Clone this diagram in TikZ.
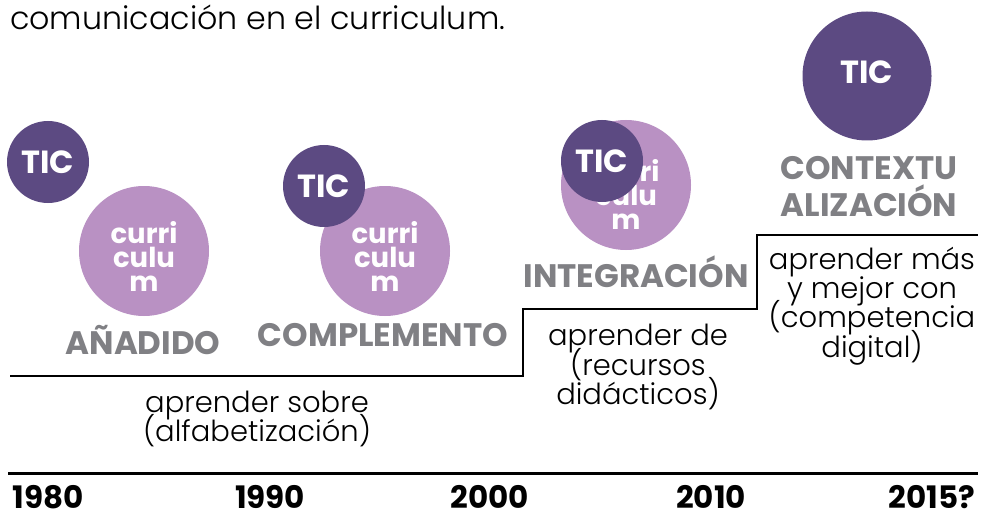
\documentclass[tikz,border=0pt]{standalone}
\usepackage{fontspec}
\setmainfont{Poppins}[UprightFont=*-Light,BoldFont=*-Bold]
\definecolor{ticc}{HTML}{5C4A82}
\definecolor{curc}{HTML}{B991C3}
\definecolor{grayc}{HTML}{808084}
\newcommand{\nolineskip}{\lineskiplimit=-1000pt\lineskip=0pt}
\begin{document}
\begin{tikzpicture}[x=1pt,y=-1pt,
  ticcircle/.style={circle,fill=ticc,inner sep=0pt},
  curcircle/.style={circle,fill=curc,inner sep=0pt,minimum size=130pt},
  ticlabel/.style={text=white,font=\bfseries\fontsize{32}{32}\selectfont,inner sep=0pt},
  curlabel/.style={text=white,font=\bfseries\fontsize{27.5}{24}\selectfont\nolineskip,align=center,inner sep=0pt},
  stagelabel/.style={text=grayc,font=\bfseries\fontsize{32.5}{37}\selectfont\nolineskip,align=center,inner sep=0pt},
  steptext/.style={text=black,font=\fontsize{29}{29.3}\selectfont\nolineskip,align=center,inner sep=0pt},
  yearlabel/.style={text=black,font=\bfseries\fontsize{31}{31}\selectfont,inner sep=0pt,anchor=base},
  stepline/.style={line width=2.5pt,black}]
\useasboundingbox (0,0) rectangle (981,513);

\node[anchor=base west,font=\fontsize{31.7}{32}\selectfont,inner sep=0pt] (title) at (10,30) {comunicación en el curriculum.};

% stage 1
\node[ticcircle,minimum size=82pt] (tic1) at (48,162) {};
\node[ticlabel] (tic1t) at (48,162) {TIC};
\node[curcircle] (cur1) at (144,251) {};
\node[curlabel] (cur1t) at (144,256) {curri\\culu\\m};
\node[stagelabel] (st1) at (143,340) {AÑADIDO};

% stage 2
\node[curcircle] (cur2) at (385,251) {};
\node[curlabel] (cur2t) at (385,256) {curri\\culu\\m};
\node[ticcircle,minimum size=82pt] (tic2) at (324,186) {};
\node[ticlabel] (tic2t) at (324,186) {TIC};
\node[stagelabel] (st2) at (383,335) {COMPLEMENTO};

% stage 3
\node[curcircle] (cur3) at (626,185) {};
\node[curlabel] (cur3t) at (626,194) {curri\\culu\\m};
\node[ticcircle,minimum size=82pt] (tic3) at (602,161) {};
\node[ticlabel] (tic3t) at (602,161) {TIC};
\node[stagelabel] (st3) at (636,272) {INTEGRACIÓN};

% stage 4
\node[ticcircle,minimum size=129pt] (tic4) at (867,76) {};
\node[ticlabel] (tic4t) at (867,72) {TIC};
\node[stagelabel] (st4) at (869,187) {CONTEXTU\\ALIZACIÓN};

% step line
\coordinate (s0) at (10,376);
\coordinate (s1) at (523,376);
\coordinate (s2) at (523,309);
\coordinate (s3) at (757,309);
\coordinate (s4) at (757,235);
\coordinate (s5) at (978,235);
\draw[stepline] (s0) -- (s1) -- (s2) -- (s3) -- (s4) -- (s5);

\node[steptext] (t1) at (257,419) {aprender sobre\\(alfabetización)};
\node[steptext] (t2) at (638,367) {aprender de\\(recursos\\didácticos)};
\node[steptext] (t3) at (872,306) {aprender más\\y mejor con\\(competencia\\digital)};

% timeline
\coordinate (a0) at (8,473);
\coordinate (a1) at (978,473);
\draw[line width=3pt] (a0) -- (a1);
\node[yearlabel] (y1) at (48,508) {1980};
\node[yearlabel] (y2) at (270,508) {1990};
\node[yearlabel] (y3) at (490,508) {2000};
\node[yearlabel] (y4) at (711,508) {2010};
\node[yearlabel] (y5) at (932,508) {2015?};
\end{tikzpicture}
\end{document}
